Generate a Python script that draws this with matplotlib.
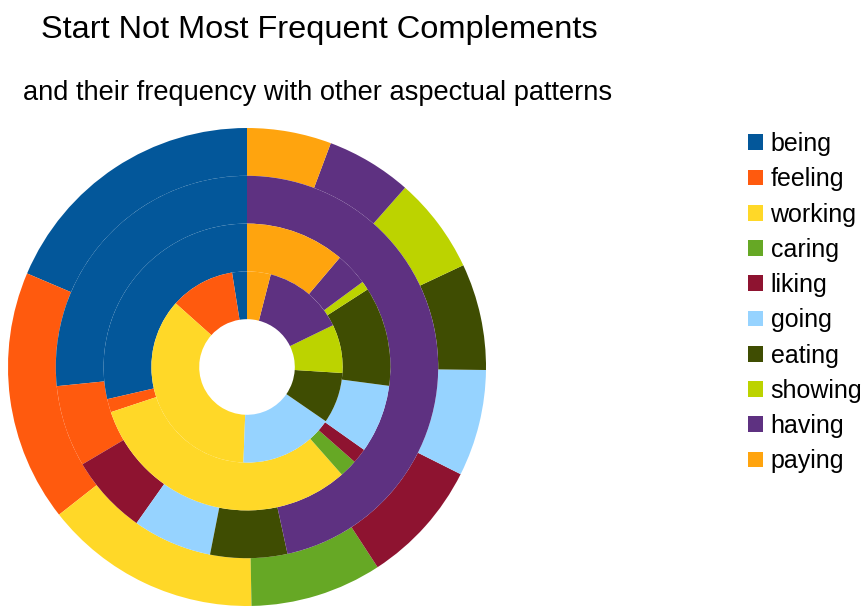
import matplotlib
matplotlib.use('Agg')
import matplotlib.pyplot as plt
from matplotlib.patches import Patch

plt.rcParams['font.family'] = ['Liberation Sans', 'DejaVu Sans']

# verbs in legend order
verbs = ['being', 'feeling', 'working', 'caring', 'liking',
         'going', 'eating', 'showing', 'having', 'paying']
colors = ['#03579a', '#ff5a0e', '#ffd828', '#66a825', '#8e1330',
          '#96d3ff', '#3f4d02', '#bcd300', '#5e3181', '#ffa40e']

# share (%) of each complement, one list per ring (outer -> inner)
ring4 = [18.6, 17.0, 14.7, 8.9, 8.4, 7.2, 7.2, 6.5, 5.8, 5.7]
ring3 = [26.6, 6.9, 0.0, 0.0, 6.7, 6.7, 6.5, 0.0, 46.6, 0.0]
ring2 = [28.6, 1.5, 31.4, 2.0, 1.7, 7.7, 11.2, 1.0, 3.7, 11.2]
ring1 = [2.5, 10.9, 36.0, 0.0, 0.0, 16.0, 8.6, 8.2, 13.8, 4.0]

fig = plt.figure(figsize=(8.64, 6.07), dpi=100)
# square axes centred at (247, 367) px, radius 239 px
cx, cy, rad = 247, 367, 239
ax = fig.add_axes([(cx - rad) / 864, (607 - cy - rad) / 607, 2 * rad / 864, 2 * rad / 607])

for vals, r in zip([ring4, ring3, ring2, ring1], [1.0, 0.8, 0.6, 0.4]):
    ax.pie(vals, colors=colors, radius=r, startangle=90, counterclock=True,
           wedgeprops=dict(width=0.2, linewidth=0))
ax.set_xlim(-1, 1)
ax.set_ylim(-1, 1)
ax.set_aspect('equal')
ax.axis('off')

fig.text(319 / 864, 1 - 30 / 607, 'Start Not Most Frequent Complements',
         ha='center', va='center', fontsize=23.4)
fig.text(318 / 864, 1 - 93 / 607, 'and their frequency with other aspectual patterns',
         ha='center', va='center', fontsize=19.6)

handles = [Patch(facecolor=c, edgecolor='none', label=v) for v, c in zip(verbs, colors)]
fig.legend(handles=handles, loc='upper left', bbox_to_anchor=(748 / 864, 1 - 132 / 607),
           frameon=False, fontsize=18, handlelength=0.6, handleheight=0.6,
           handletextpad=0.3, labelspacing=0.45, borderaxespad=0, borderpad=0)

fig.savefig('out.png', dpi=100)
